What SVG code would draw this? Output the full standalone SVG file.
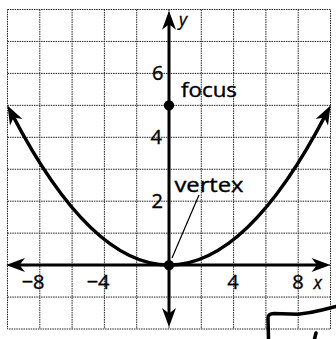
<svg xmlns="http://www.w3.org/2000/svg" width="336" height="339" viewBox="0 0 336 339">
<defs>
<style>
.grid{stroke:#1e1e1e;stroke-width:1;stroke-dasharray:1.5 0.9;fill:none}
.axis{stroke:#000;stroke-width:3;fill:none}
.curve{stroke:#000;stroke-width:3.5;fill:none}
.num{font-family:"Open Sans","Liberation Sans",sans-serif;font-size:20px;fill:#000;stroke:#000;stroke-width:0.4}
.lbl{font-family:"Open Sans","Liberation Sans",sans-serif;font-size:20.5px;fill:#000;stroke:#000;stroke-width:0.4}
.var{font-family:"Open Sans","Liberation Sans",sans-serif;font-style:italic;font-size:17.5px;fill:#000;stroke:#000;stroke-width:0.3}
</style>
<marker id="ah" markerUnits="userSpaceOnUse" viewBox="-10 -8 22 16" markerWidth="22" markerHeight="16" refX="0" refY="0" orient="auto-start-reverse">
<path d="M10,0 L-9,-7 L-3.5,0 L-9,7 Z" fill="#000"/>
</marker>
</defs>
<rect width="336" height="339" fill="#fff"/>
<g id="grid" class="grid">
<rect x="7.5" y="9.5" width="323" height="319.5"/>
<path d="M39.8,9.5V329M72.1,9.5V329M104.4,9.5V329M136.7,9.5V329M169,9.5V329M201.3,9.5V329M233.6,9.5V329M265.9,9.5V329M298.2,9.5V329"/>
<path d="M7.5,41.45H330.5M7.5,73.4H330.5M7.5,105.35H330.5M7.5,137.3H330.5M7.5,169.25H330.5M7.5,201.2H330.5M7.5,233.15H330.5M7.5,265.1H330.5M7.5,297.05H330.5"/>
</g>
<g id="axes">
<path class="axis" d="M16,265.1H320.5" marker-start="url(#ah)" marker-end="url(#ah)"/>
<path class="axis" d="M169,20.7V317" marker-start="url(#ah)" marker-end="url(#ah)"/>
</g>
<g id="parabola">
<path class="curve" d="M12.08,114.28 Q169,415.92 325.92,114.28" marker-start="url(#ah)" marker-end="url(#ah)"/>
</g>
<g id="connectors">
<line x1="172" y1="258" x2="199" y2="195" stroke="#000" stroke-width="1.2"/>
</g>
<g id="focus">
<circle cx="169" cy="105.35" r="5.2" fill="#000"/>
<text class="lbl" x="181" y="96.7" textLength="56" lengthAdjust="spacingAndGlyphs">focus</text>
</g>
<g id="vertex">
<circle cx="169" cy="265.1" r="5.2" fill="#000"/>
<text class="lbl" x="174.5" y="191.7" textLength="69" lengthAdjust="spacingAndGlyphs">vertex</text>
</g>
<g id="ticks">
<text class="num" x="163.5" y="80" text-anchor="end">6</text>
<text class="num" x="162" y="143.5" text-anchor="end">4</text>
<text class="num" x="163" y="207.7" text-anchor="end">2</text>
<text class="num" x="44.5" y="289.3" text-anchor="end">−8</text>
<text class="num" x="109.5" y="289.3" text-anchor="end">−4</text>
<text class="num" x="233" y="289.3" text-anchor="middle">4</text>
<text class="num" x="298" y="289.3" text-anchor="middle">8</text>
<text class="var" x="179" y="26">y</text>
<text class="var" x="313.5" y="289">x</text>
</g>
<g id="scribble" fill="none" stroke="#000" stroke-width="3.5" stroke-linecap="round">
<path d="M268.5,339 L268,318 Q268,314 274,313.6 L298,314.3 Q310,313 322,310 L336,306.5"/>
<path d="M316,333 L314.5,339"/>
</g>
</svg>
